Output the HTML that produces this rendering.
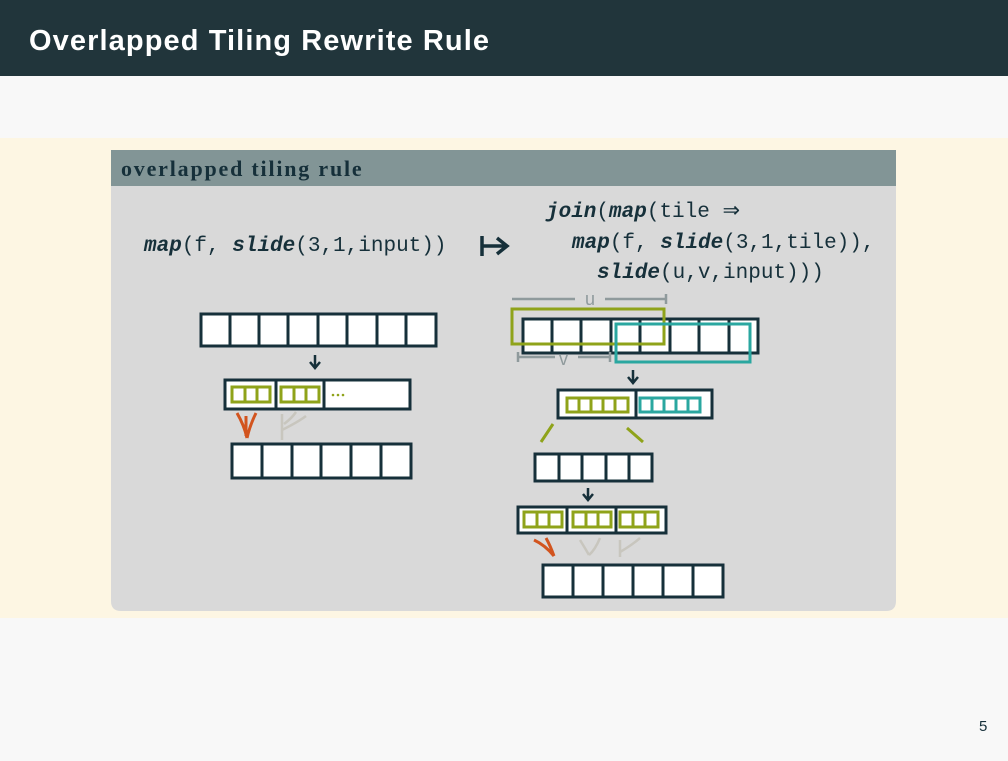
<!DOCTYPE html>
<html><head><meta charset="utf-8"><style>
body{margin:0;width:1008px;height:756px;overflow:hidden;background:#f8f8f8;font-family:"Liberation Sans",sans-serif}
</style></head><body>
<svg width="1008" height="756" xmlns="http://www.w3.org/2000/svg">
<rect x="0" y="0" width="1008" height="76" fill="#21353b"/>
<text x="29" y="50" fill="#fff" font-size="29" font-weight="bold" letter-spacing="1.1" font-family="Liberation Sans, sans-serif">Overlapped Tiling Rewrite Rule</text>
<rect x="0" y="138" width="1008" height="480" fill="#fdf6e3"/>
<path d="M111 150 H896 V601 Q896 611 886 611 H121 Q111 611 111 601 Z" fill="#d9d9d9"/>
<rect x="111" y="150" width="785" height="36" fill="#829596"/>
<text x="121" y="176" fill="#16303a" font-size="22" font-weight="bold" letter-spacing="1.8" font-family="Liberation Serif, serif">overlapped tiling rule</text>
<g font-family="Liberation Mono, monospace" font-size="21" fill="#16303a">
<text x="144" y="251"><tspan font-weight="bold" font-style="italic">map</tspan>(f, <tspan font-weight="bold" font-style="italic">slide</tspan>(3,1,input))</text>
<text x="546" y="217"><tspan font-weight="bold" font-style="italic">join</tspan>(<tspan font-weight="bold" font-style="italic">map</tspan>(tile ⇒</text>
<text x="572" y="248"><tspan font-weight="bold" font-style="italic">map</tspan>(f, <tspan font-weight="bold" font-style="italic">slide</tspan>(3,1,tile)),</text>
<text x="597" y="278"><tspan font-weight="bold" font-style="italic">slide</tspan>(u,v,input)))</text>
</g>
<g stroke="#16303a" stroke-width="3.5" fill="none"><path d="M482 236 V256 M482 246 H506 M497 238 L507 246 L497 254"/></g>
<g stroke="#16303a" stroke-width="3" fill="#fff">
<rect x="201" y="314" width="235" height="32"/>
<path d="M230 314V346M259 314V346M288 314V346M318 314V346M347 314V346M377 314V346M406 314V346" fill="none"/>
<rect x="225" y="380" width="185" height="29"/>
<path d="M276 380V409M324 380V409" fill="none"/>
<rect x="232" y="444" width="179" height="34"/>
<path d="M262 444V478M292 444V478M321 444V478M351 444V478M381 444V478" fill="none"/>
<rect x="523" y="319" width="235" height="34"/>
<path d="M552 319V353M581 319V353M611 319V353M640 319V353M670 319V353M699 319V353M729 319V353" fill="none"/>
<rect x="558" y="390" width="154" height="28"/>
<path d="M636 390V418" fill="none"/>
<rect x="535" y="454" width="117" height="27"/>
<path d="M559 454V481M582 454V481M606 454V481M629 454V481" fill="none"/>
<rect x="518" y="507" width="148" height="26"/>
<path d="M567 507V533M616 507V533" fill="none"/>
<rect x="543" y="565" width="180" height="32"/>
<path d="M573 565V597M603 565V597M633 565V597M663 565V597M693 565V597" fill="none"/>
</g>
<g stroke="#16303a" stroke-width="2.5" fill="none">
<path d="M315 355V367M310 362L315 368L320 362"/>
<path d="M633 370V382M628 377L633 383L638 377"/>
<path d="M588 488V499M583 494L588 500L593 494"/>
</g>
<g stroke="#8fa31a" stroke-width="3" fill="none">
<rect x="232" y="387" width="38" height="15"/><path d="M245 387V402M257 387V402"/>
<rect x="281" y="387" width="38" height="15"/><path d="M294 387V402M306 387V402"/>
<rect x="512" y="309" width="152" height="35"/>
<rect x="567" y="398" width="61" height="14"/><path d="M579 398V412M591 398V412M603 398V412M615 398V412"/>
<path d="M553 424L541 442M627 428L643 442"/>
<rect x="524" y="512" width="38" height="15"/><path d="M537 512V527M549 512V527"/>
<rect x="573" y="512" width="38" height="15"/><path d="M586 512V527M598 512V527"/>
<rect x="620" y="512" width="38" height="15"/><path d="M633 512V527M645 512V527"/>
</g>
<g fill="#8fa31a"><circle cx="333" cy="395" r="1.3"/><circle cx="338" cy="395" r="1.3"/><circle cx="343" cy="395" r="1.3"/></g>
<g stroke="#2aa7a0" stroke-width="3" fill="none">
<rect x="616" y="324" width="134" height="38"/>
<rect x="640" y="398" width="60" height="14"/><path d="M652 398V412M664 398V412M676 398V412M688 398V412"/>
</g>
<g stroke="#d2541e" stroke-width="3" fill="none">
<path d="M237 413Q244 425 247 438M256 413Q250 425 247 438M246 416V436"/>
<path d="M534 540Q545 545 554 556M546 538Q550 545 554 556"/>
</g>
<g stroke="#c8c6be" stroke-width="2.5" fill="none">
<path d="M282 414V440M282 430Q298 422 306 416M284 424Q292 418 296 412"/>
<path d="M580 540Q585 548 589 555M600 538Q595 550 589 555"/>
<path d="M620 540V557M620 552Q632 545 640 538"/>
</g>
<g stroke="#8f9a9c" stroke-width="2.5" fill="none">
<path d="M512 299H575M605 299H666M666 294V304M518 357H555M578 357H610M518 352V362M610 352V362"/>
</g>
<g fill="#8f9a9c" font-family="Liberation Sans, sans-serif" font-size="18"><text x="585" y="305">u</text><text x="559" y="365">v</text></g>
<text x="979" y="731" fill="#16303a" font-size="15" font-family="Liberation Sans, sans-serif">5</text>
</svg>
</body></html>
